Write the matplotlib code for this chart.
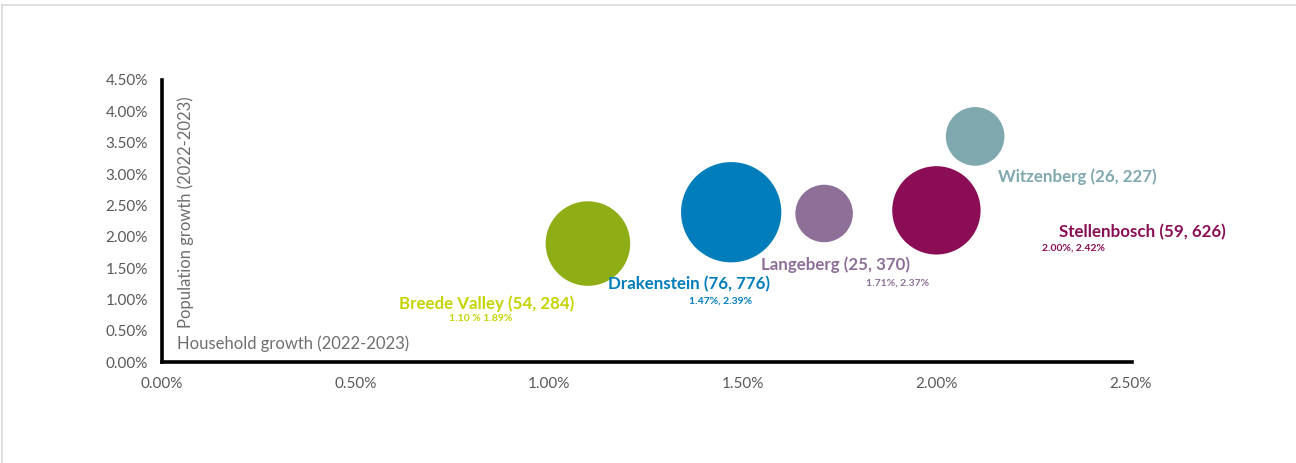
import numpy as np
import matplotlib.pyplot as plt
from matplotlib.lines import Line2D
from matplotlib.ticker import FuncFormatter, MultipleLocator

plt.rcParams["font.family"] = ["Lato", "DejaVu Sans"]

#=====================#
names = ["Breede Valley", "Drakenstein", "Langeberg", "Stellenbosch", "Witzenberg"]
hh_growth = [1.10, 1.47, 1.71, 2.00, 2.10]      # x, %
pop_growth = [1.89, 2.39, 2.37, 2.42, 3.60]     # y, %
size_a = [54, 76, 25, 59, 26]                   # bubble size
size_b = [284, 776, 370, 626, 227]
sub_labels = ["1.10 % 1.89%", "1.47%, 2.39%", "1.71%, 2.37%", "2.00%, 2.42%", ""]
#=====================#

bubble_col = ["#8FAE16", "#007DBA", "#8E6F98", "#8A0D55", "#80A9AF"]
text_col = ["#C5D300", "#007DBA", "#8E6F98", "#8A0D55", "#80A9AF"]
# label offsets from bubble centre, in pixels (right, down)
lab_off = [(-101, 60), (-42, 72), (11, 51), (206, 22), (102, 40)]
sub_off = [(-107, 75), (-11, 89), (73, 70), (137, 38), (0, 0)]

W, H = 1296, 463
fig = plt.figure(figsize=(W / 100, H / 100), dpi=100)
ax = fig.add_axes([162 / W, 101 / H, 968 / W, 282 / H])

ax.scatter(hh_growth, pop_growth, s=[68.6 * a for a in size_a], c=bubble_col,
           edgecolors="none", zorder=3, clip_on=False)

px = 0.72
for i, n in enumerate(names):
    dx, dy = lab_off[i]
    ax.annotate(f"{n} ({size_a[i]}, {size_b[i]})", (hh_growth[i], pop_growth[i]),
                xytext=(dx * px, -dy * px), textcoords="offset points",
                ha="center", va="center", fontsize=12.2, fontweight="bold",
                color=text_col[i], zorder=4)
    if sub_labels[i]:
        dx, dy = sub_off[i]
        ax.annotate(sub_labels[i], (hh_growth[i], pop_growth[i]),
                    xytext=(dx * px, -dy * px), textcoords="offset points",
                    ha="center", va="center", fontsize=7.5, fontweight="bold",
                    color=text_col[i], zorder=4)

ax.set_xlim(0, 2.5)
ax.set_ylim(0, 4.5)
ax.xaxis.set_major_locator(MultipleLocator(0.5))
ax.yaxis.set_major_locator(MultipleLocator(0.5))
pct = FuncFormatter(lambda v, p: f"{v:.2f}%")
ax.xaxis.set_major_formatter(pct)
ax.yaxis.set_major_formatter(pct)
ax.tick_params(length=0, labelsize=11, colors="#595959", pad=11)
ax.tick_params(axis="y", pad=10)

for s in ["top", "right"]:
    ax.spines[s].set_visible(False)
for s in ["left", "bottom"]:
    ax.spines[s].set_linewidth(2.6)
    ax.spines[s].set_color("black")
ax.spines["bottom"].set_bounds(0, 2.505)

ax.text(0.016, 0.065, "Household growth (2022-2023)", transform=ax.transAxes,
        fontsize=12, color="#6F6F6F", ha="left", va="center")
ax.text(0.024, 0.53, "Population growth (2022-2023)", transform=ax.transAxes,
        fontsize=12, color="#6F6F6F", ha="center", va="center", rotation=90)

# light frame round the chart
fig.add_artist(Line2D([2 / W, 1], [1 - 5 / H, 1 - 5 / H], color="#D9D9D9", lw=1.2))
fig.add_artist(Line2D([2 / W, 2 / W], [0, 1 - 5 / H], color="#D9D9D9", lw=1.2))

fig.savefig("out.png", dpi=100)
